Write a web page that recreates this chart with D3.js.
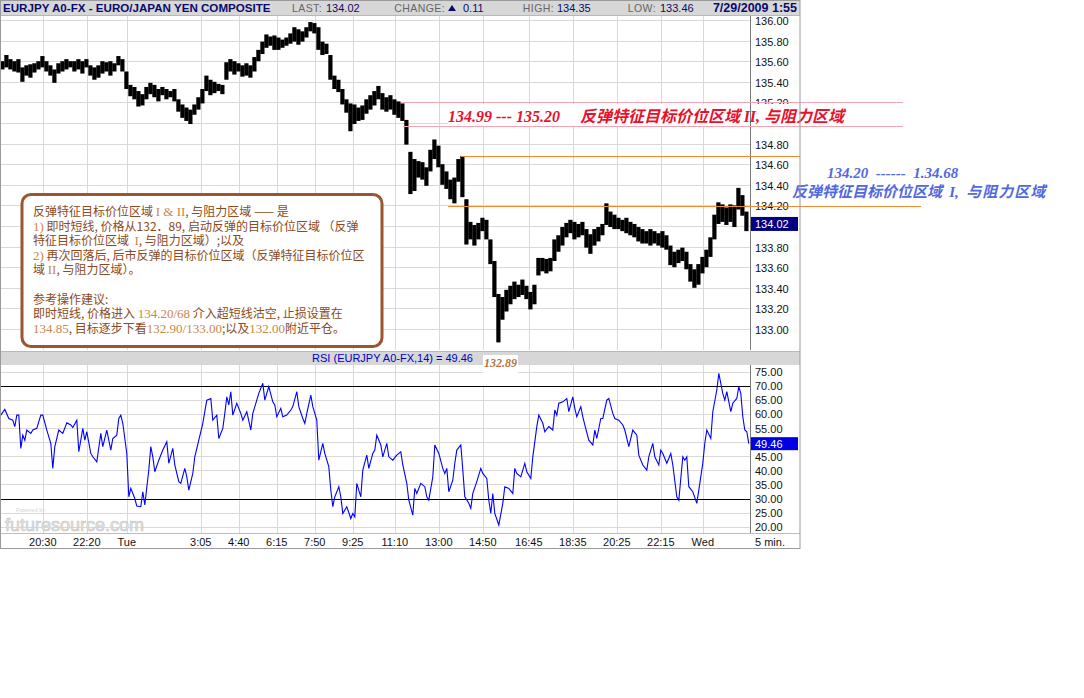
<!DOCTYPE html>
<html><head><meta charset="utf-8">
<script src="https://cdn.jsdelivr.net/npm/d3@7"></script>
<style>body{margin:0;background:#fff}svg{display:block}</style>
</head><body><svg id="c" width="1084" height="698"></svg>
<script>
// ---------- data ----------
// 10-minute bars starting Mon 2009-07-27 18:45
const priceHigh=[135.60,135.66,135.62,135.60,135.62,135.54,135.56,135.57,135.58,135.60,
135.65,135.60,135.56,135.52,135.58,135.60,135.62,135.60,135.60,135.62,
135.60,135.62,135.56,135.54,135.56,135.60,135.59,135.60,135.58,135.65,
135.62,135.50,135.37,135.35,135.31,135.28,135.35,135.39,135.37,135.33,
135.35,135.33,135.31,135.33,135.23,135.18,135.15,135.13,135.18,135.25,
135.33,135.46,135.42,135.40,135.38,135.37,135.59,135.62,135.60,135.58,
135.56,135.58,135.56,135.64,135.71,135.79,135.86,135.84,135.85,135.83,
135.81,135.83,135.87,135.93,135.91,135.89,135.93,135.98,135.97,135.93,
135.79,135.77,135.66,135.46,135.42,135.33,135.23,135.19,135.18,135.15,
135.17,135.23,135.27,135.31,135.36,135.29,135.25,135.27,135.23,135.21,
135.19,135.03,134.72,134.65,134.63,134.62,134.57,134.74,134.84,134.78,
134.60,134.53,134.45,134.47,134.65,134.68,134.26,134.04,134.01,134.03,
134.08,134.06,133.87,133.66,133.34,133.31,133.38,133.42,133.46,133.43,
133.48,133.42,133.36,133.43,133.69,133.69,133.68,133.69,133.87,133.91,
133.99,134.03,134.06,134.04,134.02,134.04,133.97,133.92,133.97,133.99,
134.02,134.22,134.14,134.11,134.08,134.06,134.08,134.04,134.02,133.99,
133.97,133.95,133.97,133.95,133.93,133.95,133.91,133.81,133.75,133.77,
133.79,133.75,133.63,133.58,133.63,133.70,133.77,133.89,134.11,134.23,
134.21,134.18,134.21,134.20,134.37,134.30,134.14];
const priceLow=[135.52,135.54,135.52,135.50,135.49,135.40,135.46,135.44,135.49,135.52,
135.54,135.50,135.46,135.39,135.48,135.50,135.52,135.54,135.50,135.52,
135.48,135.54,135.46,135.42,135.44,135.48,135.50,135.46,135.50,135.56,
135.50,135.33,135.26,135.23,135.16,135.17,135.23,135.28,135.25,135.21,
135.27,135.23,135.25,135.21,135.11,135.05,135.02,134.99,135.08,135.13,
135.19,135.31,135.27,135.29,135.31,135.28,135.42,135.50,135.47,135.50,
135.45,135.46,135.44,135.50,135.60,135.67,135.73,135.75,135.71,135.71,
135.73,135.75,135.77,135.79,135.76,135.79,135.83,135.89,135.87,135.71,
135.66,135.67,135.42,135.33,135.30,135.18,135.10,134.92,134.99,135.02,
135.03,135.09,135.13,135.17,135.23,135.13,135.11,135.13,135.08,135.05,
135.02,134.79,134.31,134.34,134.47,134.45,134.39,134.53,134.65,134.57,
134.40,134.36,134.26,134.22,134.43,134.28,133.82,133.87,133.81,133.87,
133.95,133.87,133.63,133.31,132.87,133.09,133.17,133.24,133.29,133.31,
133.33,133.29,133.19,133.24,133.52,133.56,133.54,133.56,133.66,133.75,
133.81,133.89,133.93,133.87,133.89,133.91,133.79,133.73,133.81,133.85,
133.91,134.01,133.99,133.97,133.97,133.95,133.93,133.91,133.89,133.85,
133.83,133.83,133.81,133.83,133.81,133.79,133.77,133.62,133.60,133.64,
133.66,133.58,133.46,133.40,133.43,133.54,133.60,133.70,133.87,134.02,
134.04,134.01,134.04,133.99,134.16,134.10,133.95];
// RSI(14) samples: 5-minute bar number (from Mon 18:45) and value
const rsiBar=[0,2,4,6,7,8,9,10,11,12,13,15,16,18,20,21,23,25,26,27,29,31,33,35,36,38,39,41,42,43,45,46,48,50,51,53,55,56,58,59,60,61,63,64,65,67,68,70,71,72,74,75,76,77,79,81,83,84,86,87,89,90,92,93,94,96,97,99,101,102,103,105,106,108,109,111,112,113,114,115,116,118,120,121,123,125,126,128,129,131,132,134,136,137,138,140,141,143,145,146,148,149,151,152,153,155,156,158,159,161,162,164,165,166,167,169,170,171,173,175,176,177,178,180,181,183,184,186,187,188,190,191,193,194,196,198,200,201,203,204,206,207,208,210,212,213,214,216,217,219,221,222,223,224,226,227,228,230,231,232,234,235,236,238,240,241,243,244,245,246,247,249,251,252,254,256,257,258,260,262,263,265,266,268,269,271,272,274,276,277,278,279,281,283,284,286,287,288,290,291,292,294,296,297,298,300,301,303,304,306,307,309,311,312,314,316,318,319,321,323,324,326,327,329,330,331,333,335,336,338,339,341,342,343,344,346,348,349,351,352,353,355,356,358,359,361,362,363,365,366,368,369,370,371,372,373,374];
const rsiValue=[59.6,61.6,58.4,57.8,55.5,59.6,59.6,47.8,52.5,50.7,54.3,53.1,54.3,54.9,59.6,59.6,54.3,49.6,40.7,48.4,54.3,53.1,56.9,56.1,55.2,57.8,46.6,54.9,50.7,53.7,46.0,44.8,43.0,53.1,48.4,54.3,47.2,51.3,52.5,58.4,59.6,56.7,46.0,30.6,33.6,30.0,27.3,27.1,32.4,27.7,40.1,48.4,44.8,39.5,43.6,47.2,50.1,42.5,47.8,41.9,36.0,35.4,40.7,37.7,33.0,38.9,44.8,50.7,56.7,60.8,64.9,65.5,57.8,59.6,51.3,54.9,60.2,66.1,63.2,67.9,59.6,63.8,60.2,57.8,60.8,54.3,60.2,64.9,67.3,70.9,64.9,69.7,64.3,63.2,59.0,62.0,59.0,59.6,61.4,62.6,67.9,62.6,58.4,56.7,60.2,66.7,62.6,57.8,43.6,49.6,46.0,41.3,33.0,27.1,30.6,34.2,30.6,24.7,27.1,22.9,24.7,23.5,35.4,30.6,40.1,45.4,40.7,46.0,47.2,52.5,49.0,44.8,49.6,44.8,43.6,45.4,46.6,41.9,35.4,29.4,24.1,33.6,31.8,35.4,34.2,30.6,29.4,37.7,49.0,46.0,40.7,38.9,40.7,32.4,36.5,42.5,47.2,49.0,40.1,30.6,28.3,26.5,31.8,36.0,40.7,38.9,37.1,29.4,24.7,31.8,24.7,20.6,28.3,34.2,33.6,31.8,40.7,38.9,37.7,42.5,39.5,37.1,44.8,55.5,59.6,56.7,53.7,55.5,54.3,61.4,59.6,63.8,64.3,65.5,60.8,66.1,62.0,59.0,62.6,59.0,56.1,50.7,49.0,54.3,51.3,58.4,58.4,64.9,65.5,60.2,58.4,57.8,56.1,54.3,48.4,54.3,52.5,45.4,41.9,40.1,44.8,49.6,44.8,41.9,47.2,46.0,42.5,46.0,41.9,30.6,29.4,44.8,43.6,44.8,34.2,32.4,28.3,33.0,42.5,49.6,54.3,51.3,60.8,68.5,74.4,67.3,64.9,67.9,60.8,63.8,65.5,69.7,67.3,59.0,54.3,53.7,49.46];
const priceTicks=["133.00","133.20","133.40","133.60","133.80","134.00","134.20","134.40","134.60","134.80","135.00","135.20","135.40","135.60","135.80","136.00"];
const rsiTicks=["20.00","25.00","30.00","35.00","40.00","45.00","50.00","55.00","60.00","65.00","70.00","75.00"];
const timeTickLabels=["20:30","22:20","Tue","3:05","4:40","6:15","7:50","9:25","11:10","13:00","14:50","16:45","18:35","20:25","22:15","Wed"];
const timeTickTimes=["2009-07-27 20:30","2009-07-27 22:20","2009-07-28 00:00","2009-07-28 03:05","2009-07-28 04:40","2009-07-28 06:15","2009-07-28 07:50","2009-07-28 09:25","2009-07-28 11:10","2009-07-28 13:00","2009-07-28 14:50","2009-07-28 16:45","2009-07-28 18:35","2009-07-28 20:25","2009-07-28 22:15","2009-07-29 00:00"];
const rsiLevels=[30,70];
const zoneII=[134.99,135.20];
const zoneI=[134.20,134.68];
const lastPrice="134.02", lastRsi="49.46", swingLow="132.89";

// ---------- layout ----------
const parse=d3.timeParse("%Y-%m-%d %H:%M");
const barStart=new Date(2009,6,27,18,45);
const W=800, plotR=750, priceTop=16, priceBot=350, rsiTop=365, rsiBot=533, chartBot=548;
const sans="Liberation Sans, Arial, sans-serif";
const cjk="'Noto Sans CJK SC', sans-serif";
const serif="'Liberation Serif', 'Times New Roman', serif";

const x=d3.scaleTime().domain([new Date(2009,6,27,18,43),new Date(2009,6,29,1,58)]).range([0,plotR]);
const y=d3.scaleLinear().domain([133,136]).range([329,20]);
const yr=d3.scaleLinear().domain([20,75]).range([526.7,371.7]);

const svg=d3.select("#c");
svg.append("rect").attr("width",1084).attr("height",698).attr("fill","#fff");

// header
svg.append("rect").attr("x",0).attr("y",0).attr("width",W).attr("height",15).attr("fill","#d7d7d7");
svg.append("line").attr("x1",0).attr("x2",W).attr("y1",15.5).attr("y2",15.5).attr("stroke","#b8b8b8");
const hdr=svg.append("g").attr("font-family",sans);
hdr.append("text").attr("x",3).attr("y",12).attr("font-size",11.6).attr("font-weight","bold").attr("fill","#0a0a6e").text("EURJPY A0-FX - EURO/JAPAN YEN COMPOSITE");
function hpair(xlEnd,label,xv,val){
  hdr.append("text").attr("x",xlEnd).attr("y",12).attr("text-anchor","end").attr("font-size",10.5).attr("letter-spacing",0.4).attr("fill","#666").text(label);
  hdr.append("text").attr("x",xv).attr("y",12).attr("font-size",11).attr("fill","#0a0a6e").text(val);
}
hpair(322,"LAST:",326,lastPrice);
hpair(445,"CHANGE:",463,"0.11");
hdr.append("path").attr("d","M448,11 L456,11 L452,5 Z").attr("fill","#0a0a6e");
hpair(554,"HIGH:",557,"134.35");
hpair(656,"LOW:",660,"133.46");
hdr.append("text").attr("x",797).attr("y",12).attr("text-anchor","end").attr("font-size",12.5).attr("font-weight","bold").attr("fill","#0a0a6e").text("7/29/2009 1:55");

const tickDates=timeTickTimes.map(parse);

// price grid
const gp=svg.append("g");
gp.selectAll("line.h").data(priceTicks).join("line")
  .attr("x1",0).attr("x2",plotR).attr("y1",d=>Math.round(y(+d))+0.5).attr("y2",d=>Math.round(y(+d))+0.5)
  .attr("stroke","#d9d9d9");
gp.selectAll("line.v").data(tickDates).join("line")
  .attr("x1",d=>Math.round(x(d))+0.5).attr("x2",d=>Math.round(x(d))+0.5).attr("y1",priceTop).attr("y2",priceBot)
  .attr("stroke","#d9d9d9");

// price bars
svg.append("clipPath").attr("id","pc").append("rect").attr("x",0).attr("y",priceTop).attr("width",plotR).attr("height",priceBot-priceTop);
svg.append("g").attr("clip-path","url(#pc)").selectAll("rect").data(priceHigh).join("rect")
  .attr("x",(d,i)=>x(d3.timeMinute.offset(barStart,10*i))-0.5)
  .attr("width",4.2)
  .attr("y",d=>y(d))
  .attr("height",(d,i)=>Math.max(1,y(priceLow[i])-y(d)))
  .attr("fill","#000");

// price axis labels (labels hidden in the reference behind the last-price box / zone strip are skipped)
const hiddenPriceLabels=["134.00","135.00"];
svg.append("line").attr("x1",750.5).attr("x2",750.5).attr("y1",priceTop).attr("y2",priceBot).attr("stroke","#7a7a7a");
svg.append("g").attr("font-family",sans).attr("font-size",11)
  .selectAll("text").data(priceTicks.filter(d=>!hiddenPriceLabels.includes(d))).join("text")
  .attr("x",755).attr("y",d=>y(+d)+5).attr("fill","#111").text(d=>d);

// zone II (pink) + red label on a white strip
svg.append("rect").attr("x",448).attr("y",104).attr("width",352).attr("height",22).attr("fill","#fff");
svg.append("line").attr("x1",750.5).attr("x2",750.5).attr("y1",103).attr("y2",126).attr("stroke","#7a7a7a");
zoneII.forEach(v=>{
  const yy=v===135.20?102.5:126.5;
  svg.append("line").attr("x1",403).attr("x2",903).attr("y1",yy).attr("y2",yy).attr("stroke","#f4a3b2");
});
svg.append("text").attr("x",448).attr("y",122).attr("font-family",serif).attr("font-size",16).attr("font-style","italic").attr("font-weight","bold").attr("fill","#e8112d").text(zoneII[0].toFixed(2)+" --- "+zoneII[1].toFixed(2));
const redT=svg.append("text").attr("x",580).attr("y",122).attr("font-size",16).attr("font-style","italic").attr("font-weight","bold").attr("fill","#e8112d").attr("xml:space","preserve");
redT.append("tspan").attr("font-family",cjk).text("反弹特征目标价位区域 ");
redT.append("tspan").attr("font-family",serif).text("II, ");
redT.append("tspan").attr("font-family",cjk).text("与阻力区域");

// zone I (orange) + blue label
svg.append("line").attr("x1",461).attr("x2",W).attr("y1",Math.round(y(zoneI[1]))+0.5).attr("y2",Math.round(y(zoneI[1]))+0.5).attr("stroke","#f08a30");
svg.append("line").attr("x1",448).attr("x2",921).attr("y1",Math.round(y(zoneI[0]))+1.5).attr("y2",Math.round(y(zoneI[0]))+1.5).attr("stroke","#f08a30");
svg.append("text").attr("x",827).attr("y",178).attr("font-family",serif).attr("font-size",15).attr("font-style","italic").attr("font-weight","bold").attr("fill","#5068e0").attr("xml:space","preserve").text("134.20  ------  1.34.68");
const blueT=svg.append("text").attr("x",792).attr("y",197).attr("font-size",15).attr("font-style","italic").attr("font-weight","bold").attr("fill","#5068e0").attr("xml:space","preserve");
blueT.append("tspan").attr("font-family",cjk).text("反弹特征目标价位区域 ");
blueT.append("tspan").attr("font-family",serif).text(" I,  ");
blueT.append("tspan").attr("font-family",cjk).attr("letter-spacing",1).text("与阻力区域");

// last-price box
svg.append("rect").attr("x",751).attr("y",y(+lastPrice)-7).attr("width",47).attr("height",14).attr("fill","#000080");
svg.append("text").attr("x",755).attr("y",y(+lastPrice)+4.5).attr("font-family",sans).attr("font-size",11).attr("fill","#fff").text(lastPrice);

// annotation box
svg.append("rect").attr("x",22).attr("y",194.5).attr("width",360).attr("height",152).attr("rx",9)
  .attr("fill","#fff").attr("stroke","#9b5530").attr("stroke-width",3);
const boxLines=[
 [["c","反弹特征目标价位区域 "],["s","I & II"],["c",", 与阻力区域 —— 是"]],
 [["s","1)"],["c"," 即时短线, 价格从132．89, 启动反弹的目标价位区域 （反弹"]],
 [["c","特征目标价位区域  "],["s","I"],["c",", 与阻力区域）;以及"]],
 [["s","2)"],["c"," 再次回落后, 后市反弹的目标价位区域（反弹特征目标价位区"]],
 [["c","域 "],["s","II"],["c",", 与阻力区域）。"]],
 [],
 [["c","参考操作建议:"]],
 [["c","即时短线, 价格进入 "],["s","134.20/68"],["c"," 介入超短线沽空, 止损设置在"]],
 [["s","134.85"],["c",", 目标逐步下看"],["s","132.90/133.00"],["c",";以及"],["s","132.00"],["c","附近平仓。"]]
];
const baseY=[216,230.5,245,259.5,274,0,303.5,318,332.5];
boxLines.forEach((ln,i)=>{
  if(!ln.length) return;
  const t=svg.append("text").attr("x",33).attr("y",baseY[i]).attr("font-size",12).attr("xml:space","preserve");
  ln.forEach(([k,s])=>t.append("tspan").attr("font-family",k==="s"?serif:cjk).attr("font-size",k==="s"?13:12).attr("fill",k==="s"?"#c8874a":"#8a4a22").text(s));
});

// RSI header bar
svg.append("rect").attr("x",0).attr("y",352).attr("width",W).attr("height",13).attr("fill","#d7d7d7");
svg.append("line").attr("x1",0).attr("x2",W).attr("y1",351.5).attr("y2",351.5).attr("stroke","#b8b8b8");
svg.append("text").attr("x",473).attr("y",362).attr("text-anchor","end").attr("font-family",sans).attr("font-size",11).attr("fill","#0000c8").text("RSI (EURJPY A0-FX,14) = "+lastRsi);

// RSI grid
const gr=svg.append("g");
gr.selectAll("line.h").data(rsiTicks).join("line")
  .attr("x1",0).attr("x2",plotR).attr("y1",d=>Math.round(yr(+d))+0.5).attr("y2",d=>Math.round(yr(+d))+0.5).attr("stroke","#d9d9d9");
gr.selectAll("line.v").data(tickDates).join("line")
  .attr("x1",d=>Math.round(x(d))+0.5).attr("x2",d=>Math.round(x(d))+0.5).attr("y1",rsiTop).attr("y2",rsiBot).attr("stroke","#d9d9d9");
gr.selectAll("line.l").data(rsiLevels).join("line")
  .attr("x1",0).attr("x2",plotR).attr("y1",d=>Math.round(yr(d))+0.5).attr("y2",d=>Math.round(yr(d))+0.5).attr("stroke","#000");

// watermark
svg.append("text").attr("x",16).attr("y",512).attr("font-family",sans).attr("font-size",5.5).attr("fill","#d4d4d4").text("Powered by");
svg.append("text").attr("x",5).attr("y",531).attr("font-family",sans).attr("font-size",18).attr("fill","#e6e6e6").attr("stroke","#c4c4c4").attr("stroke-width",0.6).text("futuresource.com");

// RSI line
const rsiPts=rsiBar.map((b,i)=>[d3.timeMinute.offset(barStart,5*b),rsiValue[i]]);
svg.append("path").datum(rsiPts).attr("fill","none").attr("stroke","#0000ff").attr("stroke-width",1.1)
  .attr("d",d3.line().x(d=>x(d[0])).y(d=>yr(d[1])));

// swing-low label
svg.append("rect").attr("x",483).attr("y",355).attr("width",35).attr("height",30).attr("fill","#fff");
svg.append("text").attr("x",484).attr("y",367).attr("font-family",serif).attr("font-size",12).attr("font-style","italic").attr("font-weight","bold").attr("fill","#b77540").text(swingLow);

// RSI axis
svg.append("line").attr("x1",750.5).attr("x2",750.5).attr("y1",rsiTop).attr("y2",rsiBot).attr("stroke","#7a7a7a");
svg.append("g").attr("font-family",sans).attr("font-size",11)
  .selectAll("text").data(rsiTicks.filter(d=>Math.abs(+d-(+lastRsi))>2.5)).join("text")
  .attr("x",755).attr("y",d=>yr(+d)+4.5).attr("fill","#111").text(d=>d);
svg.append("rect").attr("x",751).attr("y",yr(+lastRsi)-6.5).attr("width",47).attr("height",13).attr("fill","#0000e6");
svg.append("text").attr("x",755).attr("y",yr(+lastRsi)+4.5).attr("font-family",sans).attr("font-size",11).attr("fill","#fff").text(lastRsi);

// time axis
svg.append("line").attr("x1",0).attr("x2",W).attr("y1",rsiBot+0.5).attr("y2",rsiBot+0.5).attr("stroke","#bdbdbd");
svg.append("g").attr("font-family",sans).attr("font-size",11).selectAll("text").data(timeTickLabels).join("text")
  .attr("x",(d,i)=>x(tickDates[i])).attr("y",546).attr("text-anchor","middle").attr("fill","#111").text(d=>d);
svg.append("text").attr("x",755).attr("y",546).attr("font-family",sans).attr("font-size",11).attr("fill","#111").text("5 min.");

// outer border
svg.append("rect").attr("x",0.5).attr("y",0.5).attr("width",W-0.5).attr("height",chartBot).attr("fill","none").attr("stroke","#9a9a9a");
</script></body></html>
